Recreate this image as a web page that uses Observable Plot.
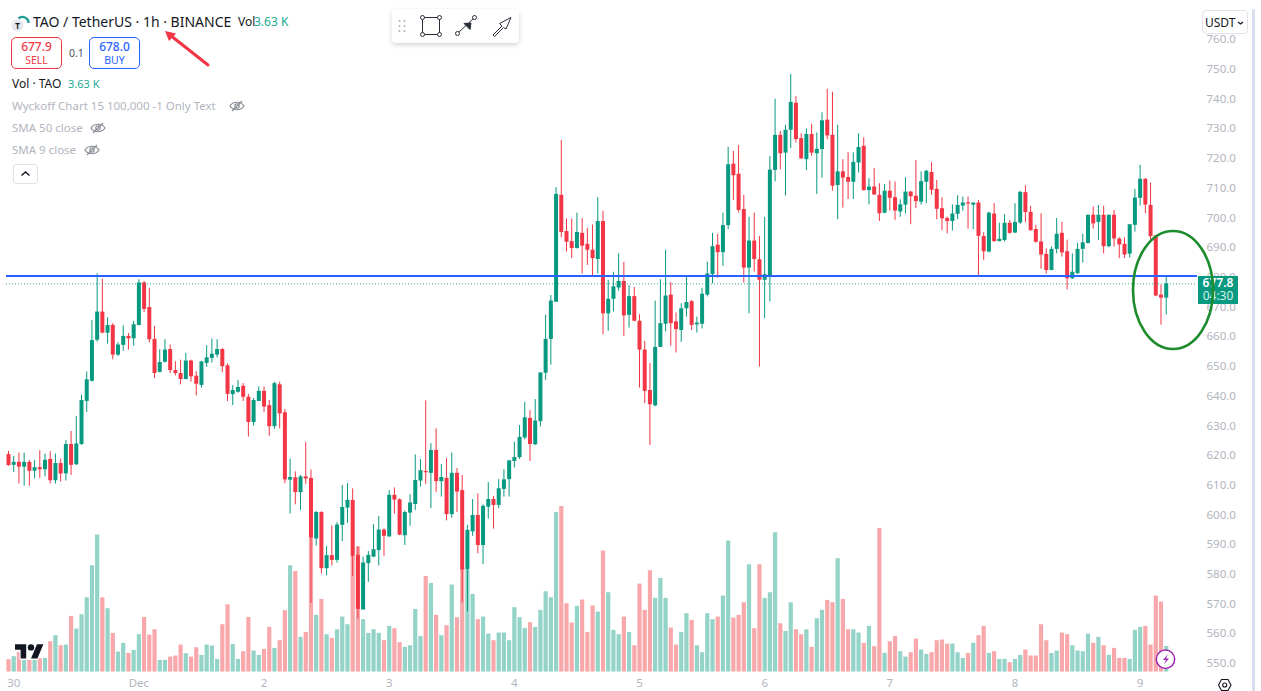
<!DOCTYPE html>
<html>
<head>
<meta charset="utf-8">
<script src="https://cdn.jsdelivr.net/npm/d3@7"></script>
<script src="https://cdn.jsdelivr.net/npm/@observablehq/plot@0.6"></script>
<style>
html,body{margin:0;padding:0;background:#fff;overflow:hidden}
#page{position:relative;width:1261px;height:691px;font-family:"Noto Sans",sans-serif;overflow:hidden}
#chart svg{display:block}
.t{position:absolute;white-space:nowrap;line-height:1}
.box{position:absolute;box-sizing:border-box;background:#fff}
.ov{position:absolute;left:0;top:0}
</style>
</head>
<body>
<div id="page">
<div id="chart"></div>

<div class="box" style="left:1252px;top:9px;width:3px;height:682px;background:#d9dfee"></div>
<div class="box" style="left:1198px;top:276px;width:40px;height:28px;background:#089981"></div>
<div class="t" style="left:1198px;width:40px;text-align:center;top:284px;margin-top:-7px;font-size:12px;font-weight:600;color:#fff">677.8</div>
<div class="t" style="left:1198px;width:40px;text-align:center;top:297px;margin-top:-7px;font-size:12px;color:#d6f0ea">04:30</div>
<div class="box" style="left:1202px;top:10px;width:46px;height:24px;border:1px solid #e0e3eb;border-radius:4px"></div>
<div class="t" style="left:1205px;top:17px;font-size:12px;color:#131722">USDT</div>

<div class="t" style="left:33px;top:15px;font-size:14px;color:#131722">TAO / TetherUS · 1h · BINANCE</div>
<div class="t" style="left:238px;top:16px;font-size:12px;color:#131722">Vol</div>
<div class="t" style="left:254px;top:16px;font-size:12px;color:#22ab94">3.63 K</div>

<div class="box" style="left:11px;top:37px;width:51px;height:32px;border:1px solid #f23645;border-radius:5px"></div>
<div class="t" style="left:11px;width:51px;text-align:center;top:41px;font-size:12px;font-weight:500;color:#f23645">677.9</div>
<div class="t" style="left:11px;width:51px;text-align:center;top:55px;font-size:10.5px;color:#f23645">SELL</div>
<div class="t" style="left:69px;top:48px;font-size:10.5px;color:#50535e">0.1</div>
<div class="box" style="left:89px;top:37px;width:51px;height:32px;border:1px solid #2962ff;border-radius:5px"></div>
<div class="t" style="left:89px;width:51px;text-align:center;top:41px;font-size:12px;font-weight:500;color:#2962ff">678.0</div>
<div class="t" style="left:89px;width:51px;text-align:center;top:55px;font-size:10.5px;color:#2962ff">BUY</div>

<div class="t" style="left:12px;top:78px;font-size:12px;color:#131722">Vol · TAO</div>
<div class="t" style="left:68px;top:78px;font-size:11px;color:#22ab94">3.63 K</div>
<div class="t" style="left:12px;top:100px;font-size:11.5px;color:#b2b5be">Wyckoff Chart 15 100,000 -1 Only Text</div>
<div class="t" style="left:12px;top:122px;font-size:11.5px;color:#b2b5be">SMA 50 close</div>
<div class="t" style="left:12px;top:144px;font-size:11.5px;color:#b2b5be">SMA 9 close</div>
<div class="box" style="left:13px;top:164px;width:25px;height:20px;border:1px solid #e0e3eb;border-radius:3px"></div>

<div class="box" style="left:392px;top:9px;width:127px;height:34px;border-radius:4px;box-shadow:0 2px 5px rgba(19,23,34,.18)"></div>

<svg class="ov" width="1261" height="691" viewBox="0 0 1261 691" fill="none">
  <circle cx="17.5" cy="25.5" r="6" fill="#e8e9f0"/>
  <text x="17.5" y="29" font-size="8" font-weight="700" fill="#131722" text-anchor="middle" font-family="Noto Sans">T</text>
  <path d="M18.5 18.500A6 6 0 0 1 28.500 23" stroke="#1f9d94" stroke-width="2.4"/>
  <path d="M1238 22l2.500 2 2.500-2" stroke="#131722" stroke-width="1.2"/>
  <path d="M21.500 175.500l4-3.500 4 3.500" stroke="#131722" stroke-width="1.5"/>
  <g stroke="#8a8d96" stroke-width="1.2">
    <g transform="translate(237,106)"><path d="M-7 0C-4-5 4-5 7 0C4 5-4 5-7 0Z"/><circle r="2.2"/><path d="M-5 5L5-5"/></g>
    <g transform="translate(98,128)"><path d="M-7 0C-4-5 4-5 7 0C4 5-4 5-7 0Z"/><circle r="2.2"/><path d="M-5 5L5-5"/></g>
    <g transform="translate(92,150)"><path d="M-7 0C-4-5 4-5 7 0C4 5-4 5-7 0Z"/><circle r="2.2"/><path d="M-5 5L5-5"/></g>
  </g>
  <g fill="#b2b5be"><circle cx="399.500" cy="21" r="1"/><circle cx="404.500" cy="21" r="1"/><circle cx="399.500" cy="26" r="1"/><circle cx="404.500" cy="26" r="1"/><circle cx="399.500" cy="31" r="1"/><circle cx="404.500" cy="31" r="1"/></g>
  <g stroke="#2a2e39" stroke-width="1">
    <rect x="422.500" y="17.500" width="17" height="17"/>
    <g fill="#fff"><circle cx="422.500" cy="17.500" r="2"/><circle cx="439.500" cy="17.500" r="2"/><circle cx="422.500" cy="34.500" r="2"/><circle cx="439.500" cy="34.500" r="2"/></g>
    <path d="M458 33L474 18"/><circle cx="457.500" cy="33.500" r="2" fill="#fff"/><circle cx="474.500" cy="17.500" r="2" fill="#fff"/>
    <path d="M464 23.500l7-.5-1 6.500z" fill="#2a2e39"/>
    <path d="M493 35L502 26L499.500 23.500L511 17.500L506 29L503.500 27.500L494.500 36.500Z"/>
  </g>
  <path d="M208 65L170 35" stroke="#f23645" stroke-width="3" stroke-linecap="round"/>
  <path d="M165 31L176 33.500L169 41Z" fill="#f23645"/>
  <ellipse cx="1173" cy="290" rx="40" ry="59" stroke="#1c8c2c" stroke-width="2.6"/>
  <g transform="translate(15,641) scale(.8)">
    <g stroke="#fff" stroke-width="3" stroke-linejoin="round">
      <path d="M14 22H7V11H0V4h14v18zM28 22h-8l7.500-18h8L28 22z"/><circle cx="20" cy="8" r="4"/>
    </g>
    <path d="M14 22H7V11H0V4h14v18zM28 22h-8l7.500-18h8L28 22z" fill="#131722"/><circle cx="20" cy="8" r="4" fill="#131722"/>
  </g>
  <circle cx="1165.500" cy="659.300" r="9.200" fill="#fff" stroke="#9c27b0" stroke-width="1.500"/>
  <path d="M1168 654l-5 6h3l-2 4.500 5-6h-3z" fill="#9c27b0"/>
  <g stroke="#131722" stroke-width="1.100">
    <path d="M1218.500 685l3-5.500h6.500l3 5.500-3 5.500h-6.500z"/><circle cx="1224.700" cy="685" r="2"/>
  </g>
</svg>
</div>
<script>
const opens = [
620.3,616.7,617.7,616.1,617.7,614.7,615.9,615.2,618.7,611.5,
617.3,613.8,623.7,616.9,623.7,638.2,645.0,658.8,668.3,661.2,
663.8,653.8,657.1,660.1,659.3,663.8,678.1,669.8,659.1,648.0,
651.4,655.7,648.6,647.6,645.6,651.8,646.7,643.6,651.0,652.7,
653.8,655.7,650.2,640.5,641.3,643.3,639.6,631.1,638.2,641.6,
636.8,629.7,643.8,634.4,611.7,612.5,607.5,612.8,612.3,591.9,
600.8,581.9,586.3,584.7,596.5,602.3,604.9,586.4,568.0,583.6,
585.8,588.0,594.9,592.6,606.6,605.1,593.0,600.6,603.5,611.4,
614.6,614.0,621.7,611.2,612.3,600.1,614.0,608.2,581.5,594.3,
599.8,589.7,602.6,605.2,603.2,608.6,611.9,618.0,619.3,625.9,
632.5,623.6,631.4,647.7,659.1,671.6,707.6,695.4,692.0,689.7,
694.8,691.1,689.1,686.0,698.8,667.7,672.6,676.4,678.6,667.2,
673.5,665.2,655.5,641.9,636.7,656.4,664.2,674.0,665.0,662.1,
669.4,671.8,664.0,664.2,674.0,680.9,690.8,688.3,697.4,718.1,
714.7,702.8,683.1,692.2,685.9,679.0,680.0,716.0,727.8,721.8,
729.5,738.6,726.7,719.6,728.1,721.6,723.0,732.9,727.8,710.9,
715.5,713.6,712.0,718.5,724.1,709.2,710.4,707.6,701.6,709.0,
706.8,702.0,704.3,708.7,707.3,705.3,712.0,715.3,709.6,703.1,
699.8,698.8,701.2,704.0,705.1,704.3,705.0,693.7,688.5,701.3,
692.0,692.4,698.2,694.9,698.3,708.5,701.9,696.1,691.9,687.7,
682.3,689.4,694.8,688.6,679.5,681.2,689.4,691.4,700.9,698.5,
700.9,690.3,700.9,692.9,691.1,687.8,697.5,706.6,713.0,704.2,
694.0,674.0,673.0];
const highs = [
621.4,619.7,620.8,620.8,618.4,618.3,621.6,620.5,621.3,620.5,
618.8,625.0,628.1,633.1,640.3,648.1,665.4,681.2,679.4,666.4,
664.4,658.0,663.7,661.1,665.2,679.2,678.6,676.3,663.5,655.6,
659.0,657.2,651.6,652.1,654.4,652.1,648.2,651.7,657.0,659.2,
659.0,656.0,650.9,643.5,645.3,644.2,640.6,639.2,643.1,643.1,
638.5,644.7,644.7,635.5,618.8,614.5,613.3,624.4,615.1,601.2,
601.1,589.4,596.3,597.4,609.9,610.5,608.8,589.4,585.8,587.7,
596.7,599.5,595.3,608.2,609.1,605.4,601.3,606.8,620.2,618.6,
638.4,624.0,629.0,617.0,619.0,620.8,615.6,613.3,596.5,605.2,
607.1,603.4,610.9,606.2,611.9,615.2,618.2,624.5,630.1,637.9,
635.1,638.8,647.8,667.2,673.9,710.2,726.1,699.6,699.6,701.6,
699.8,696.5,697.6,706.8,702.2,679.0,681.7,687.9,685.0,677.2,
676.6,667.4,658.4,651.0,672.0,679.2,689.1,678.2,668.0,671.1,
680.3,672.2,666.6,676.3,685.1,694.8,694.5,701.6,723.8,722.4,
724.4,707.6,700.2,701.6,693.7,700.2,720.7,740.0,729.1,731.2,
748.3,740.9,728.3,730.0,731.5,728.6,735.4,743.3,742.3,731.2,
719.6,722.0,721.9,728.3,727.0,713.2,716.7,711.5,711.3,712.4,
712.1,706.1,713.5,708.9,719.3,715.5,716.0,718.6,712.6,706.8,
700.3,704.4,707.5,707.0,707.0,705.0,705.9,695.0,701.9,704.8,
698.2,701.1,699.1,704.8,708.9,710.8,703.9,697.5,701.4,689.6,
690.2,699.8,698.5,692.5,687.9,691.4,694.5,700.9,703.7,704.2,
703.9,700.9,702.5,693.3,693.3,697.7,709.6,717.7,713.2,711.8,
694.0,677.4,680.1];
const lows = [
616.4,614.3,610.4,609.7,609.7,612.1,612.3,612.8,610.4,610.4,
611.1,611.4,613.3,616.6,623.4,634.5,644.7,658.2,661.0,657.5,
652.2,653.3,655.1,655.5,656.8,663.6,668.1,657.9,645.9,647.8,
651.1,647.6,646.8,643.8,645.5,644.7,640.1,642.7,649.7,651.1,
652.9,647.9,638.2,636.8,641.0,638.2,626.2,629.9,638.2,634.5,
626.5,628.8,629.0,610.5,600.3,603.4,601.5,610.3,570.2,589.5,
580.1,579.5,582.8,583.8,591.0,597.1,579.3,565.0,568.0,577.3,
585.6,582.8,586.1,592.5,600.3,593.0,589.7,596.2,601.5,609.4,
610.3,602.1,607.6,606.0,598.0,598.9,600.8,570.4,567.3,592.8,
586.9,583.3,598.6,595.2,602.1,606.0,606.0,615.8,618.6,625.3,
618.0,623.4,629.6,645.3,650.4,671.6,693.3,688.5,686.3,689.5,
681.1,684.0,680.3,681.1,660.7,661.8,668.3,675.3,660.1,662.9,
665.0,642.7,637.5,623.4,636.4,656.4,661.6,656.8,654.5,658.1,
666.6,662.1,661.2,662.6,673.4,677.8,679.7,683.7,696.0,705.9,
701.6,678.1,667.7,681.8,649.8,666.1,671.7,712.1,716.2,707.4,
723.3,725.2,719.6,715.9,720.7,707.9,713.4,726.3,709.0,699.4,
703.3,706.2,706.2,715.1,709.0,704.4,707.6,698.8,701.4,702.3,
699.2,700.2,701.4,697.7,703.1,704.3,704.8,707.6,699.4,695.7,
694.6,695.6,699.4,702.3,696.2,696.0,680.3,685.7,688.2,691.8,
692.0,691.9,694.5,694.7,697.8,698.4,695.5,691.5,682.7,681.1,
682.2,687.9,686.8,675.8,679.3,681.0,684.8,691.2,696.2,692.4,
687.9,690.0,690.2,686.3,686.3,686.5,695.2,704.0,701.4,691.9,
673.5,663.9,667.3];
const closes = [
616.6,617.7,616.1,617.7,614.7,615.9,615.2,618.4,611.5,617.3,
613.8,623.7,616.7,623.9,638.5,645.5,658.7,668.3,661.2,663.8,
653.8,657.2,660.1,659.3,664.0,678.1,669.2,659.0,647.6,651.3,
655.5,648.6,647.6,645.6,651.8,646.5,644.0,651.5,652.9,654.1,
655.7,649.9,640.6,641.9,642.9,639.6,631.1,638.5,641.6,636.3,
629.7,644.2,634.0,611.8,612.6,607.5,612.8,612.1,592.2,600.8,
581.9,586.3,584.7,596.6,602.5,604.9,586.1,568.2,583.8,586.4,
588.3,594.9,592.8,606.6,605.0,593.2,600.8,604.0,611.6,614.9,
614.2,621.7,611.2,612.6,600.1,614.0,607.7,581.5,594.8,599.8,
589.7,602.9,605.2,603.2,608.8,611.8,618.2,619.3,626.1,632.7,
623.7,631.6,647.8,659.1,672.0,707.9,695.1,691.8,689.7,695.1,
690.5,689.1,686.3,698.8,667.7,672.6,676.8,678.6,667.0,673.5,
665.2,655.5,641.6,637.1,656.4,664.4,673.7,664.4,662.4,669.4,
671.5,663.8,664.6,674.3,681.1,690.3,688.3,697.4,717.9,714.2,
702.5,683.1,692.2,686.0,679.0,680.9,716.1,727.8,721.6,729.5,
738.9,726.4,719.9,728.1,721.8,723.1,732.7,727.6,710.7,715.5,
713.4,712.0,718.7,723.7,709.2,710.4,707.7,701.4,709.0,706.6,
702.3,704.4,708.7,707.1,705.5,712.2,715.7,709.3,702.9,699.7,
698.8,701.3,704.2,705.0,704.7,705.0,693.8,688.6,701.6,692.0,
692.8,698.2,694.8,698.5,708.6,701.8,695.7,691.8,687.5,682.3,
689.4,694.5,688.2,679.5,681.7,689.4,691.6,700.9,698.0,700.9,
690.3,700.9,692.9,690.9,687.5,697.7,706.7,713.0,704.3,693.7,
673.7,673.0,677.8];
// Volume per hour, thousands of TAO
const volumes = [
1.75,2.18,2.80,1.66,1.66,1.66,1.90,1.94,4.31,5.17,
3.74,3.84,7.92,6.11,8.15,10.57,15.12,19.48,10.57,9.01,
5.50,2.84,4.08,2.65,3.08,5.31,7.77,5.26,6.02,1.66,
1.66,2.13,2.28,3.84,2.61,2.13,3.46,2.37,3.84,3.70,
1.80,6.73,9.57,3.93,1.80,2.89,7.77,2.99,2.37,3.22,
6.35,3.37,4.46,8.72,15.12,14.31,4.93,5.64,19.05,8.06,
10.33,5.31,4.79,6.02,7.82,6.73,16.59,17.78,7.44,5.50,
6.02,5.50,4.46,6.49,6.16,4.17,3.51,3.74,8.91,5.07,
13.60,12.61,8.06,5.17,6.59,12.37,7.73,14.93,14.46,11.04,
7.44,7.82,5.40,4.46,5.55,5.55,4.46,9.15,7.73,6.21,
7.02,6.35,8.77,11.42,10.57,22.70,23.56,9.72,6.97,9.34,
10.24,5.64,9.39,8.53,17.21,11.28,5.93,5.31,7.82,5.64,
3.74,12.51,8.77,14.41,10.48,13.32,10.48,6.26,3.84,5.64,
8.30,7.35,3.74,2.75,8.30,7.44,7.82,10.81,18.63,7.68,
8.06,9.86,15.26,6.16,15.26,10.48,11.28,19.81,6.87,5.78,
9.86,6.02,5.31,6.02,3.51,7.58,8.77,10.19,9.86,16.12,
10.33,6.02,6.02,5.55,4.08,6.49,3.60,20.43,2.65,4.31,
5.07,2.89,2.13,2.75,4.69,3.13,2.51,2.75,4.46,4.55,
3.98,3.98,2.75,1.94,2.65,4.08,5.17,6.49,2.65,2.89,
1.80,1.80,1.33,1.80,2.37,3.13,2.28,2.28,6.73,4.46,
2.65,2.99,5.55,5.31,3.74,2.99,2.89,5.40,4.08,4.93,
3.74,2.37,3.37,1.94,1.94,1.80,5.93,6.35,6.49,3.84,
10.81,9.95,3.63];

const priceTicks = d3.range(550, 770, 10);
const dayLabels = ["30","Dec","2","3","4","5","6","7","8","9"];
const dayTicks = [Date.UTC(2024,10,30),Date.UTC(2024,11,1),Date.UTC(2024,11,2),Date.UTC(2024,11,3),Date.UTC(2024,11,4),Date.UTC(2024,11,5),Date.UTC(2024,11,6),Date.UTC(2024,11,7),Date.UTC(2024,11,8),Date.UTC(2024,11,9)].map(d => new Date(d));
const resistance = 680.4;
const lastPrice = 677.8;

const HOUR = 3600e3;
const first = Date.UTC(2024,10,29,23);
const time = i => new Date(first + i * HOUR);
const candles = opens.map((o,i) => ({
  t: time(i), o, h: highs[i], l: lows[i], c: closes[i], v: volumes[i],
  up: closes[i] >= o
}));
// Volume pane shares the frame: it sits on its own base and unit within the price scale.
const volBase = 547.1, volUnit = 2.367;
const volY = v => volBase + v * volUnit;

const GREEN="#089981", RED="#f23645", GREEN_V="#93d3c8", RED_V="#f8a8aa";

const chart = Plot.plot({
  width: 1261, height: 691,
  marginLeft: 6, marginRight: 64, marginTop: 8, marginBottom: 15,
  style: {fontFamily: '"Noto Sans",sans-serif', fontSize: "11.5px", background: "transparent"},
  x: {type: "utc", domain: [new Date(first - 0.384*HOUR), new Date(first + 228.0*HOUR)]},
  y: {domain: [545.6, 770.5]},
  marks: [
    Plot.ruleX(candles, {x:"t", y1: volBase, y2: d => volY(d.v), stroke: d => d.up ? GREEN_V : RED_V, strokeWidth: 4.2}),
    Plot.ruleX(candles, {x:"t", y1:"l", y2:"h", stroke: d => d.up ? GREEN : RED, strokeWidth: 1}),
    Plot.ruleX(candles, {x:"t", y1:"o", y2:"c", stroke: d => d.up ? GREEN : RED, strokeWidth: 4}),
    Plot.ruleY([resistance], {stroke:"#2962ff", strokeWidth:2}),
    Plot.ruleY([lastPrice], {stroke:GREEN, strokeWidth:1, strokeDasharray:"1,2", strokeOpacity:.8}),
    Plot.axisY({anchor:"right", ticks: priceTicks, tickFormat: d => d.toFixed(1), tickSize:0, tickPadding:9, color:"#b2b5be", label:null}),
    Plot.axisX({anchor:"bottom", ticks: dayTicks, tickFormat: d => dayLabels[dayTicks.findIndex(t => +t === +d)], tickSize:0, tickPadding:2, color:"#b2b5be", label:null})
  ]
});
document.getElementById("chart").appendChild(chart);
</script>
</body>
</html>
